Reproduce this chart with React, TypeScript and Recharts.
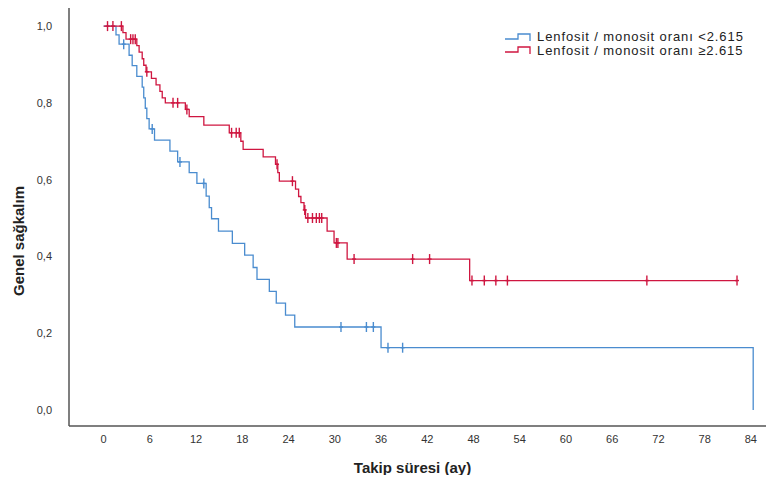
import React from 'react'
import {
  LineChart, Line, XAxis, YAxis, Label,
} from 'recharts'

// Kaplan-Meier: Lenfosit / monosit oranı gruplarına göre genel sağkalım

// < 2.615 grubu (mavi)
const blueEventTimes = [1.6, 2.0, 3.3, 3.7, 4.3, 5.0, 5.2, 5.4, 5.6, 5.9, 6.6, 8.6, 9.6, 11.1, 12.1, 13.3, 13.7, 14.0, 14.9, 16.7, 18.3, 19.4, 19.9, 21.5, 22.4, 23.6, 24.8, 36.0, 84.3]
const blueSurvival = [0.977, 0.953, 0.924, 0.897, 0.869, 0.841, 0.813, 0.786, 0.759, 0.732, 0.703, 0.674, 0.646, 0.618, 0.590, 0.557, 0.527, 0.498, 0.466, 0.434, 0.403, 0.371, 0.340, 0.309, 0.278, 0.247, 0.216, 0.162, 0]
const blueCensorTimes = [2.6, 6.3, 9.9, 13.0, 30.8, 34.1, 35.0, 36.9, 38.8]

// ≥ 2.615 grubu (kırmızı)
const redEventTimes = [2.5, 2.9, 4.3, 4.6, 5.0, 5.2, 5.5, 6.2, 6.8, 7.3, 7.6, 8.0, 10.6, 11.1, 13.0, 16.3, 17.8, 18.1, 20.7, 22.3, 22.6, 22.8, 24.9, 25.3, 25.6, 26.0, 26.2, 29.0, 29.9, 31.6, 47.5]
const redSurvival = [0.983, 0.966, 0.949, 0.932, 0.915, 0.898, 0.881, 0.864, 0.847, 0.830, 0.813, 0.800, 0.783, 0.764, 0.742, 0.722, 0.700, 0.679, 0.659, 0.640, 0.618, 0.596, 0.575, 0.556, 0.540, 0.521, 0.500, 0.466, 0.435, 0.393, 0.337]
const redCensorTimes = [0.5, 1.2, 2.3, 3.5, 3.8, 4.1, 5.6, 9.0, 9.6, 10.8, 16.6, 17.2, 17.6, 22.5, 24.5, 26.1, 26.5, 27.1, 27.6, 28.0, 28.3, 30.2, 30.4, 32.5, 40.1, 42.3, 47.8, 49.4, 50.9, 52.4, 70.5, 82.2]

const xTicks = [0, 6, 12, 18, 24, 30, 36, 42, 48, 54, 60, 66, 72, 78, 84]
const yTicks = [0, 0.2, 0.4, 0.6, 0.8, 1.0]

const seriesNames = ['Lenfosit / monosit oranı <2.615', 'Lenfosit / monosit oranı ≥2.615']

const BLUE = '#4a8ccf'
const RED = '#cf1640'
const AXIS = '#555'
const FONT = 'Arial, "Liberation Sans", sans-serif'
const X_DOMAIN: [number, number] = [-4.5, 87]

type Pt = { t: number; s: number; c: boolean }

// olay + sansür noktalarını tek step serisine çevir
function buildCurve(times: number[], surv: number[], censors: number[]): Pt[] {
  const survAt = (t: number) => {
    let s = 1
    times.forEach((et, i) => { if (et <= t) s = surv[i] })
    return s
  }
  const pts: Pt[] = [{ t: 0, s: 1, c: false }]
  times.forEach((t, i) => pts.push({ t, s: surv[i], c: false }))
  censors.forEach((t) => pts.push({ t, s: survAt(t), c: true }))
  return pts.sort((a, b) => a.t - b.t || (a.c ? 1 : 0) - (b.c ? 1 : 0))
}

const blueData = buildCurve(blueEventTimes, blueSurvival, blueCensorTimes)
const redData = buildCurve(redEventTimes, redSurvival, redCensorTimes)

const censorDot = (color: string) => (props: any) => {
  const { cx, cy, payload, index } = props
  if (!payload?.c) return <g key={`n${index}`} />
  return (
    <g key={`c${index}`}>
      <line x1={cx} x2={cx} y1={cy - 5} y2={cy + 5} stroke={color} strokeWidth={1.4} />
      <line x1={cx - 2} x2={cx + 2} y1={cy} y2={cy} stroke={color} strokeWidth={1.4} />
    </g>
  )
}

const fmt = (v: number) => v.toFixed(1).replace('.', ',')

function LegendBox() {
  const colors = [BLUE, RED]
  return (
    <div style={{ position: 'absolute', left: 505, top: 30, fontFamily: FONT, fontSize: 13, letterSpacing: 0.9, color: '#222' }}>
      {seriesNames.map((n, i) => (
        <div key={n} style={{ display: 'flex', alignItems: 'center', height: 13.5 }}>
          <svg width={32} height={12}>
            <path d="M0,8 H13 V3 H25 V10" fill="none" stroke={colors[i]} strokeWidth={1.3} />
          </svg>
          <span style={{ lineHeight: '13.5px', whiteSpace: 'nowrap' }}>{n}</span>
        </div>
      ))}
    </div>
  )
}

export default function App() {
  return (
    <div style={{ position: 'relative', margin: -8, width: 774, height: 483, background: '#fff', overflow: 'hidden' }}>
      <LineChart width={774} height={483} margin={{ top: 5, right: 0, left: 0, bottom: 0 }}>
        <XAxis
          type="number" dataKey="t" domain={X_DOMAIN} ticks={xTicks} allowDataOverflow
          height={57} tickSize={0} tickMargin={9}
          axisLine={{ stroke: AXIS, strokeWidth: 1.5 }}
          tick={{ fontSize: 11, fill: '#333', fontFamily: FONT }}
        >
          <Label value="Takip süresi (ay)" position="insideBottom" offset={10} dx={-9}
            style={{ fontSize: 15, fontWeight: 'bold', fill: '#222', fontFamily: FONT }} />
        </XAxis>
        <YAxis
          type="number" domain={[-0.042, 1.055]} ticks={yTicks} allowDataOverflow
          width={69} tickSize={0} tickMargin={17} tickFormatter={fmt}
          axisLine={{ stroke: AXIS, strokeWidth: 1.5 }}
          tick={{ fontSize: 11, fill: '#333', fontFamily: FONT }}
        >
          <Label
            content={() => (
              <text transform="translate(24, 241) rotate(-90)" textAnchor="middle"
                style={{ fontSize: 15, fontWeight: 'bold', fill: '#222', fontFamily: FONT }}>
                Genel sağkalım
              </text>
            )}
          />
        </YAxis>
        <Line data={blueData} dataKey="s" type="stepAfter" stroke={BLUE} strokeWidth={1.3}
          dot={censorDot(BLUE)} activeDot={false} isAnimationActive={false} name={seriesNames[0]} />
        <Line data={redData} dataKey="s" type="stepAfter" stroke={RED} strokeWidth={1.3}
          dot={censorDot(RED)} activeDot={false} isAnimationActive={false} name={seriesNames[1]} />
      </LineChart>
      {/* çerçevenin üst kenarı */}
      <div style={{ position: 'absolute', left: 68, top: 4, width: 706, height: 2, background: AXIS }} />
      <LegendBox />
    </div>
  )
}
